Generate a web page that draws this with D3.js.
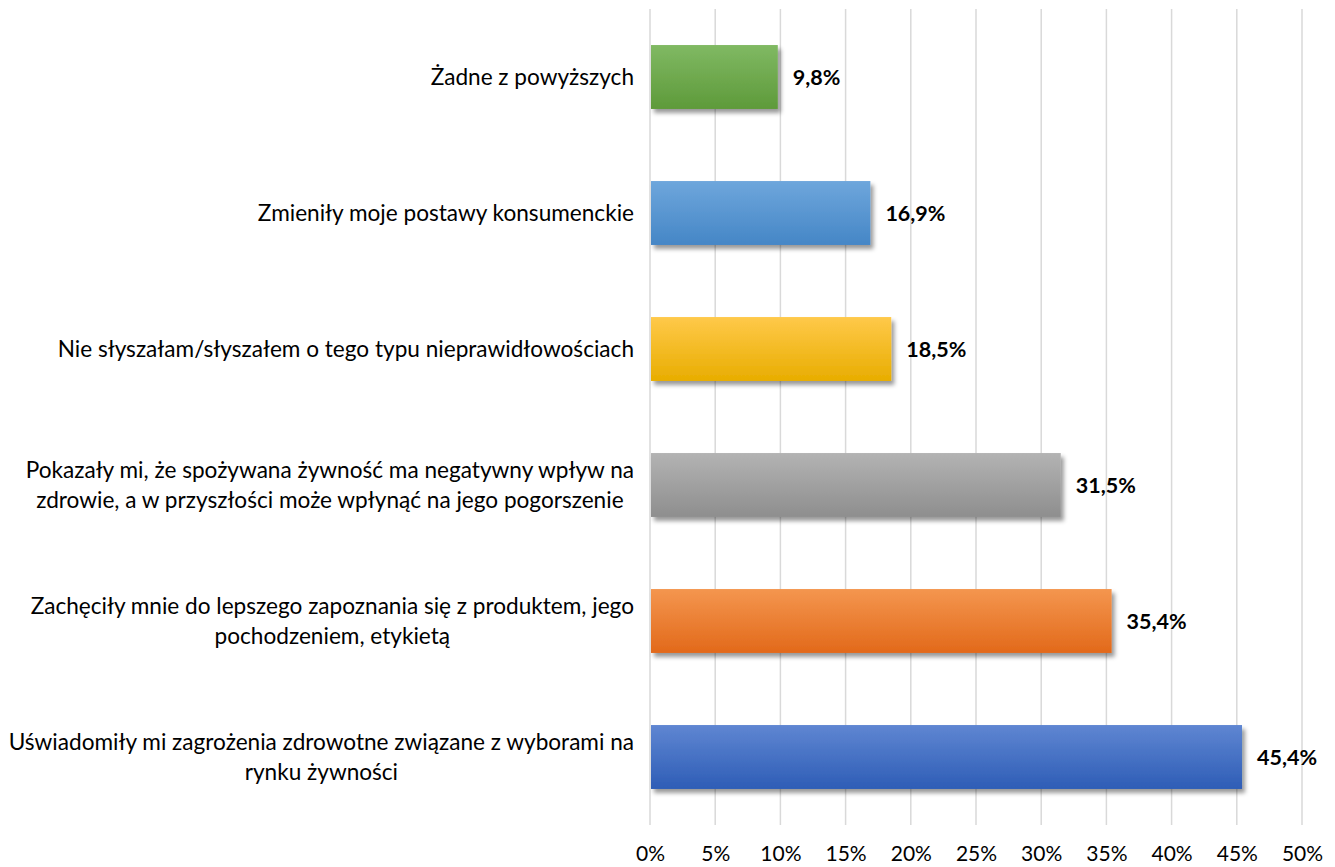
<!DOCTYPE html>
<html>
<head>
<meta charset="utf-8">
<script src="https://cdn.jsdelivr.net/npm/d3@7"></script>
<style>
  html, body { margin: 0; padding: 0; background: #ffffff; }
  svg { display: block; }
  text { font-family: Lato, "Open Sans", sans-serif; fill: #000; }
</style>
</head>
<body>
<svg id="chart" width="1335" height="867"></svg>
<script>
// Answers (top to bottom) and their shares in percent
const categories = [
  ["Żadne z powyższych"],
  ["Zmieniły moje postawy konsumenckie"],
  ["Nie słyszałam/słyszałem o tego typu nieprawidłowościach"],
  ["Pokazały mi, że spożywana żywność ma negatywny wpływ na", "zdrowie, a w przyszłości może wpłynąć na jego pogorszenie"],
  ["Zachęciły mnie do lepszego zapoznania się z produktem, jego", "pochodzeniem, etykietą"],
  ["Uświadomiły mi zagrożenia zdrowotne związane z wyborami na", "rynku żywności"]
];
const values = [9.8, 16.9, 18.5, 31.5, 35.4, 45.4];
const valueLabels = ["9,8%", "16,9%", "18,5%", "31,5%", "35,4%", "45,4%"];
const tickValues = [0, 5, 10, 15, 20, 25, 30, 35, 40, 45, 50];
// Gradient stops (top, bottom) per bar
const barColors = [
  ["#80b963", "#5e9a3a"],
  ["#6ea6dc", "#4586c6"],
  ["#ffc94a", "#e8ad00"],
  ["#b3b3b3", "#8e8e8e"],
  ["#f4964f", "#e2691a"],
  ["#5f86d2", "#2e5db6"]
];

const svg = d3.select("#chart");
const plotLeft = 650, plotRight = 1302, plotTop = 9, plotBottom = 825;

const x = d3.scaleLinear().domain([0, 50]).range([plotLeft, plotRight]);
const y = d3.scaleBand().domain(d3.range(categories.length))
  .range([plotTop, plotBottom]).paddingInner(0.53).paddingOuter(0.265);

const defs = svg.append("defs");
barColors.forEach((c, i) => {
  const g = defs.append("linearGradient").attr("id", "grad" + i)
    .attr("x1", 0).attr("y1", 0).attr("x2", 0).attr("y2", 1);
  g.append("stop").attr("offset", "0%").attr("stop-color", c[0]);
  g.append("stop").attr("offset", "100%").attr("stop-color", c[1]);
});
const f = defs.append("filter").attr("id", "shadow")
  .attr("x", "-10%").attr("y", "-20%").attr("width", "130%").attr("height", "150%");
f.append("feDropShadow").attr("dx", 3).attr("dy", 4).attr("stdDeviation", 2)
  .attr("flood-color", "#000").attr("flood-opacity", 0.4);

// Vertical gridlines
svg.append("g").selectAll("line").data(tickValues).join("line")
  .attr("x1", d => x(d)).attr("x2", d => x(d))
  .attr("y1", plotTop).attr("y2", plotBottom)
  .attr("stroke", "#d9d9d9").attr("stroke-width", 1.5);

// Tick labels along the bottom
const xAxis = svg.append("g").attr("transform", `translate(0,${plotBottom})`)
  .call(d3.axisBottom(x).tickValues(tickValues).tickFormat(d => d + "%").tickSize(0));
xAxis.select(".domain").remove();
xAxis.selectAll("text")
  .attr("y", 36).attr("dy", 0)
  .attr("font-size", 21).attr("font-family", "Lato, 'Open Sans', sans-serif").attr("fill", "#000");

// Bars
svg.append("g").selectAll("rect").data(values).join("rect")
  .attr("x", x(0) + 1)
  .attr("y", (d, i) => y(i))
  .attr("width", d => x(d) - x(0) - 1)
  .attr("height", y.bandwidth())
  .attr("fill", (d, i) => `url(#grad${i})`)
  .attr("filter", "url(#shadow)");

// Value labels
svg.append("g").selectAll("text").data(values).join("text")
  .attr("x", d => x(d) + 15)
  .attr("y", (d, i) => y(i) + y.bandwidth() / 2 + 8)
  .attr("font-size", 21.5).attr("font-weight", "bold")
  .text((d, i) => valueLabels[i]);

// Category labels: lines centred on each other, block right-aligned
const labelRight = 634, lineH = 30;
categories.forEach((lines, i) => {
  const cy = y(i) + y.bandwidth() / 2;
  const g = svg.append("g");
  const texts = lines.map((ln, k) => g.append("text")
    .attr("font-size", 22.6)
    .attr("text-anchor", "middle")
    .attr("y", cy + 8 + (k - (lines.length - 1) / 2) * lineH)
    .text(ln));
  const w = d3.max(texts, t => t.node().getComputedTextLength());
  texts.forEach(t => t.attr("x", labelRight - w / 2));
});
</script>
</body>
</html>
